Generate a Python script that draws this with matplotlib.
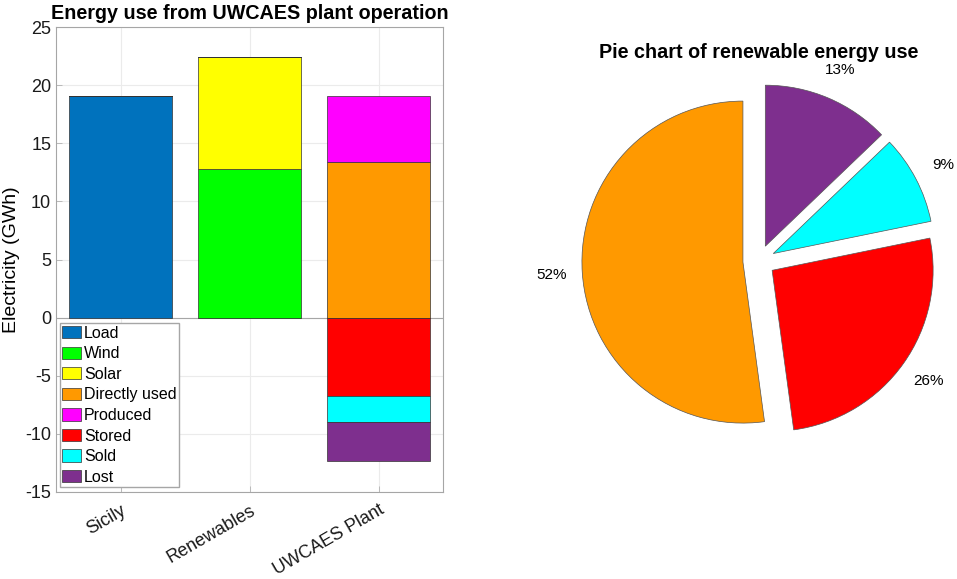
import numpy as np
import matplotlib
matplotlib.use("Agg")
import matplotlib.pyplot as plt

plt.rcParams['font.family'] = ['Liberation Sans', 'DejaVu Sans']
plt.rcParams['axes.unicode_minus'] = False

categories = ['Sicily', 'Renewables', 'UWCAES Plant']
series_names = ['Load', 'Wind', 'Solar', 'Directly used', 'Produced', 'Stored', 'Sold', 'Lost']
load = [19.1, 0, 0]
wind = [0, 12.8, 0]
solar = [0, 9.6, 0]
direct = [0, 0, 13.4]
produced = [0, 0, 5.7]
stored = [0, 0, -6.7]
sold = [0, 0, -2.3]
lost = [0, 0, -3.3]
colors = ['#0072BD', '#00FF00', '#FFFF00', '#FF9900', '#FF00FF', '#FF0000', '#00FFFF', '#7E2F8E']

# pie: plant use of renewables, clockwise from top
pie_vals = [abs(lost[2]), abs(sold[2]), abs(stored[2]), direct[2]]
pie_colors = ['#7E2F8E', '#00FFFF', '#FF0000', '#FF9900']

fig = plt.figure(figsize=(9.57, 5.79), dpi=100)

# ---- left: stacked bars
ax = fig.add_axes([56/957, 1-492/579, 387/957, 465/579])
x = np.arange(1, len(categories)+1)
pos_bottom = np.zeros(len(categories))
neg_bottom = np.zeros(len(categories))
for name, vals, c in zip(series_names, [load, wind, solar, direct, produced, stored, sold, lost], colors):
    v = np.array(vals, dtype=float)
    b = np.where(v >= 0, pos_bottom, neg_bottom)
    ax.bar(x, v, 0.8, bottom=b, color=c, edgecolor='#333333', linewidth=0.5, label=name, zorder=3)
    pos_bottom += np.where(v > 0, v, 0)
    neg_bottom += np.where(v < 0, v, 0)

ax.set_xlim(0.5, 3.5)
ax.set_ylim(-15, 25)
ax.set_yticks(np.arange(-15, 26, 5))
ax.set_xticks(x)
ax.set_xticklabels(categories, rotation=30, ha='right', rotation_mode='anchor')
ax.tick_params(direction='in', labelsize=13, colors='#a6a6a6', length=4, width=0.5)
ax.tick_params(axis='x', pad=7)
for lbl in ax.get_xticklabels() + ax.get_yticklabels():
    lbl.set_color('#1a1a1a')
ax.grid(True, color='#ebebeb', linewidth=0.8, zorder=0)
ax.set_axisbelow(True)
for s in ax.spines.values():
    s.set_color('#a6a6a6')
    s.set_linewidth(0.8)
ax.axhline(0, color='#a6a6a6', linewidth=0.8, zorder=2)
ax.set_ylabel('Electricity (GWh)', fontsize=14, va='center')
ax.yaxis.set_label_coords(-0.115, 0.5)
ax.set_title('Energy use from UWCAES plant operation', fontsize=14.2, fontweight='bold', pad=6)
ax.legend(loc='upper left', bbox_to_anchor=(0.01, 0.363), borderaxespad=0, fontsize=11.5,
          fancybox=False, edgecolor='#a6a6a6', framealpha=1, handlelength=1.2, handleheight=0.8,
          handletextpad=0.15, labelspacing=0.35, borderpad=0.15)

# ---- right: exploded pie
r = 161
half = 1.3 * r
cx, cy = 759, 261
ax2 = fig.add_axes([(cx-half)/957, 1-(cy+half)/579, 2*half/957, 2*half/579])
ax2.pie(pie_vals, colors=pie_colors, explode=[0.1]*4, startangle=90, counterclock=False,
        autopct='%1.0f%%', pctdistance=1.19, textprops={'fontsize': 11},
        wedgeprops={'edgecolor': '#555555', 'linewidth': 0.5})
ax2.set_xlim(-1.3, 1.3)
ax2.set_ylim(-1.3, 1.3)
ax2.set_aspect('auto')
ax2.axis('off')
fig.text(cx/957, 1-52/579, 'Pie chart of renewable energy use', fontsize=14.2,
         fontweight='bold', ha='center', va='center')

fig.savefig('out.png', dpi=100)
